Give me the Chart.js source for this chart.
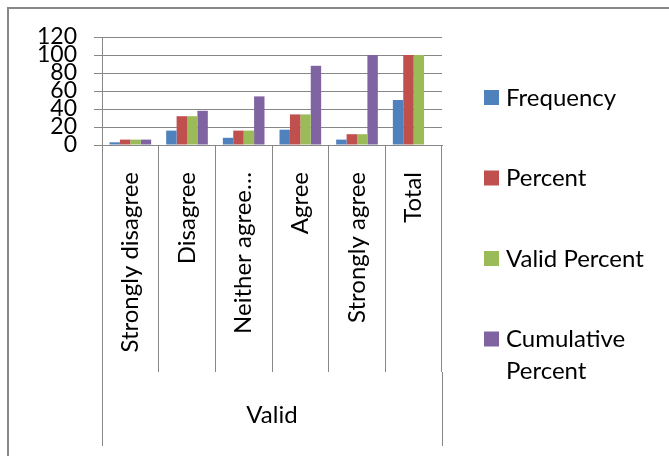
<!DOCTYPE html>
<html>
<head>
<meta charset="utf-8">
<script src="https://cdn.jsdelivr.net/npm/chart.js@4"></script>
<style>
  html, body { margin: 0; padding: 0; background: #fff; overflow: hidden; }
  canvas { display: block; }
</style>
</head>
<body>
<canvas id="chart" width="669" height="456"></canvas>
<script>
// Survey responses by answer category
const categories = ['Strongly disagree', 'Disagree', 'Neither agree\u2026', 'Agree', 'Strongly agree', 'Total'];
const groupLabel = 'Valid';
const frequency = [3, 16, 8, 17, 6, 50];
const percent = [6, 32, 16, 34, 12, 100];
const validPercent = [6, 32, 16, 34, 12, 100];
const cumulativePercent = [6, 38, 54, 88, 100, null];
const yTicks = [0, 20, 40, 60, 80, 100, 120];
const seriesNames = ['Frequency', 'Percent', 'Valid Percent', 'Cumulative Percent'];
const seriesColors = ['#4F81BD', '#C0504D', '#9BBB59', '#8064A2'];

const FONT = 'Lato';
const GRID = '#878787';
const TEXT = '#000';

// Frame, outer group separators and the side legend
const decorations = {
  id: 'decorations',
  beforeDraw(chart) {
    const ctx = chart.ctx;
    ctx.save();
    ctx.fillStyle = '#fff';
    ctx.fillRect(0, 0, chart.width, chart.height);
    ctx.strokeStyle = '#888';
    ctx.lineWidth = 2;
    ctx.beginPath();
    ctx.moveTo(8, chart.height + 4);
    ctx.lineTo(8, 8);
    ctx.lineTo(chart.width + 4, 8);
    ctx.stroke();
    ctx.restore();
  },
  afterDraw(chart) {
    const ctx = chart.ctx;
    const xs = chart.scales.x;
    ctx.save();
    // outer edges of the "Valid" group reach further down than the inner separators
    ctx.strokeStyle = GRID;
    ctx.lineWidth = 1;
    const yStart = xs.top + xs.options.grid.tickLength;
    const yEnd = xs.bottom - 10;
    [xs.left, xs.right].forEach(px => {
      const x = Math.round(px) + 0.5;
      ctx.beginPath();
      ctx.moveTo(x, yStart);
      ctx.lineTo(x, yEnd);
      ctx.stroke();
    });

    // legend
    const boxX = 484, textX = 506, firstY = 97, step = 80.5, lineH = 32, maxW = 160;
    ctx.font = '24px ' + FONT;
    ctx.textBaseline = 'middle';
    ctx.textAlign = 'left';
    chart.data.datasets.forEach((ds, i) => {
      const cy = firstY + i * step;
      ctx.fillStyle = ds.backgroundColor;
      ctx.fillRect(boxX, cy - 7, 15, 15);
      // wrap words to the legend width
      const words = ds.label.split(' ');
      const lines = [];
      let cur = '';
      words.forEach(w => {
        const t = cur ? cur + ' ' + w : w;
        if (cur && ctx.measureText(t).width > maxW) { lines.push(cur); cur = w; }
        else cur = t;
      });
      lines.push(cur);
      ctx.fillStyle = TEXT;
      lines.forEach((ln, k) => ctx.fillText(ln, textX, cy + 1 + k * lineH));
    });
    ctx.restore();
  }
};

const seriesData = [frequency, percent, validPercent, cumulativePercent];

new Chart(document.getElementById('chart'), {
  type: 'bar',
  data: {
    labels: categories,
    datasets: seriesNames.map((name, i) => ({
      label: name,
      data: seriesData[i],
      backgroundColor: seriesColors[i],
      borderWidth: 0,
      categoryPercentage: 0.735,
      barPercentage: 1
    }))
  },
  options: {
    responsive: false,
    devicePixelRatio: 1,
    animation: false,
    layout: { padding: { left: 0, top: 37, right: 227, bottom: 0 } },
    plugins: {
      legend: { display: false },
      tooltip: { enabled: false }
    },
    scales: {
      x: {
        offset: true,
        grid: {
          display: true,
          drawOnChartArea: false,
          drawTicks: true,
          tickLength: 227,
          color: GRID,
          lineWidth: 1
        },
        border: { display: true, color: GRID, width: 1 },
        ticks: {
          minRotation: 90,
          maxRotation: 90,
          autoSkip: false,
          padding: -200,
          color: TEXT,
          font: { family: FONT, size: 24 }
        },
        title: {
          display: true,
          text: groupLabel,
          color: TEXT,
          font: { family: FONT, size: 24 },
          padding: { top: 0, bottom: 26 }
        },
        afterFit(s) { s.height = 311; }
      },
      y: {
        min: 0,
        max: 120,
        afterBuildTicks(s) { s.ticks = yTicks.map(v => ({ value: v })); },
        grid: {
          color: GRID,
          lineWidth: 1,
          drawTicks: true,
          tickLength: 8
        },
        border: { display: true, color: GRID, width: 1 },
        ticks: {
          autoSkip: false,
          padding: 17,
          color: TEXT,
          font: { family: FONT, size: 23, lineHeight: 1 }
        },
        afterFit(s) { s.width = 102; }
      }
    }
  },
  plugins: [decorations]
});
</script>
</body>
</html>
